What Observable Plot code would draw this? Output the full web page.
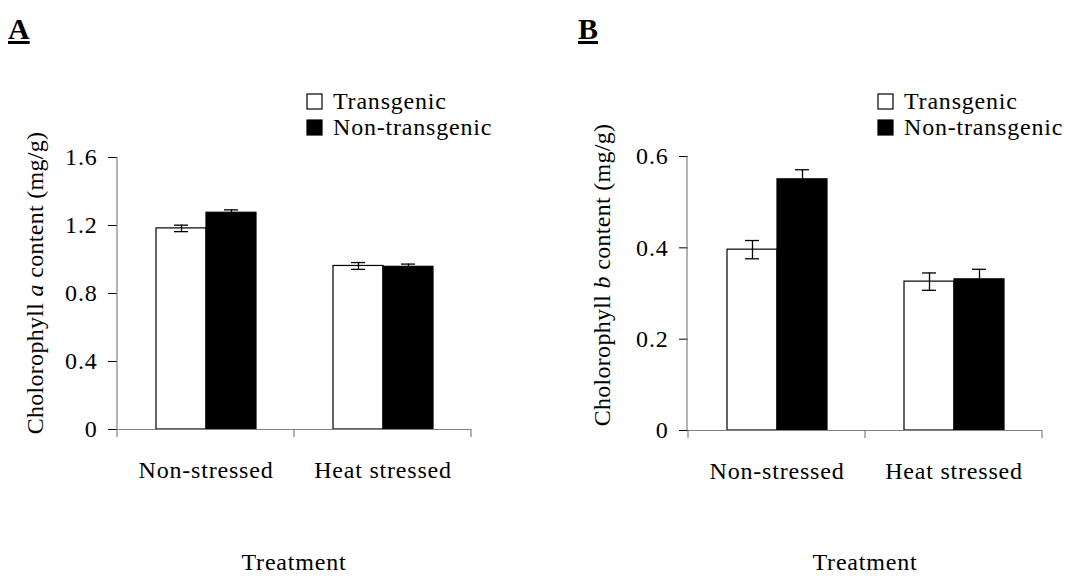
<!DOCTYPE html>
<html><head><meta charset="utf-8">
<script src="https://cdn.jsdelivr.net/npm/d3@7"></script>
<script src="https://cdn.jsdelivr.net/npm/@observablehq/plot@0.6"></script>
<style>
body{margin:0;background:#fff;}
#wrap{position:relative;width:1090px;height:579px;}
.panel{position:absolute;top:0;}
svg text{letter-spacing:0.8px;}
</style></head><body><div id="wrap"></div>
<script>
const FONT = '"Liberation Serif","Times New Roman",serif';
const treatments = ["Non-stressed", "Heat stressed"];
const genotypes = ["Transgenic", "Non-transgenic"];

// Panel A: chlorophyll a (mg/g)
const chlA_transgenic = [1.183, 0.962];
const chlA_transgenicErr = [0.019, 0.020];
const chlA_nonTransgenic = [1.275, 0.957];
const chlA_nonTransgenicErr = [0.017, 0.016];
const ticksA = [0, 0.4, 0.8, 1.2, 1.6];

// Panel B: chlorophyll b (mg/g)
const chlB_transgenic = [0.396, 0.326];
const chlB_transgenicErr = [0.020, 0.019];
const chlB_nonTransgenic = [0.550, 0.331];
const chlB_nonTransgenicErr = [0.021, 0.022];
const ticksB = [0, 0.2, 0.4, 0.6];

function rowsOf(tv, te, nv, ne) {
  const rows = [];
  treatments.forEach((t, i) => {
    rows.push({treatment: t, genotype: genotypes[0], value: tv[i], err: te[i]});
    rows.push({treatment: t, genotype: genotypes[1], value: nv[i], err: ne[i]});
  });
  return rows;
}

function toPx(s) { return s.apply ? s.apply : d3.scaleLinear(s.domain, s.range); }

function panel(cfg) {
  const {rows, ticks, letter, italic, left, width, marginLeft, marginRight, marginTop, marginBottom, titleX, titleY, legendX} = cfg;
  const height = 579;
  const fmt = d => d === 0 ? "0" : d.toFixed(1);
  const chart = Plot.plot({
    width, height, marginLeft, marginRight, marginTop, marginBottom,
    style: {fontFamily: FONT, fontSize: "24px", color: "#000", background: "transparent", overflow: "visible"},
    fx: {domain: treatments, padding: 0, label: null, axis: "bottom", tickSize: 0, tickPadding: 31},
    x: {domain: genotypes, paddingInner: 0, paddingOuter: 0.74, axis: null},
    y: {domain: [ticks[0], ticks[ticks.length - 1]], ticks, tickFormat: fmt, label: null, tickSize: 9, tickPadding: 11},
    color: {domain: genotypes, range: ["#ffffff", "#000000"]},
    marks: [
      Plot.barY(rows, {fx: "treatment", x: "genotype", y: "value", fill: "genotype", stroke: "#000", strokeWidth: 1.2}),
      Plot.ruleX(rows, {fx: "treatment", x: "genotype", y1: d => d.value - d.err, y2: d => d.value + d.err, stroke: "#000", strokeWidth: 1.3}),
      Plot.tickY(rows, {fx: "treatment", x: "genotype", y: d => d.value - d.err, insetLeft: 18, insetRight: 18, stroke: "#000", strokeWidth: 1.3}),
      Plot.tickY(rows, {fx: "treatment", x: "genotype", y: d => d.value + d.err, insetLeft: 18, insetRight: 18, stroke: "#000", strokeWidth: 1.3}),
      Plot.ruleY([0], {stroke: "#808080", strokeWidth: 1.2})
    ]
  });
  const svg = d3.select(chart);
  const yS = chart.scale("y");
  const yPx = toPx(yS);
  const y0 = yPx(ticks[0]);
  const yTop = yPx(ticks[ticks.length - 1]);
  // y axis line
  svg.append("line").attr("x1", marginLeft).attr("x2", marginLeft).attr("y1", yTop).attr("y2", y0)
    .attr("stroke", "#808080").attr("stroke-width", 1.2);
  // category boundary ticks
  let bounds;
  try {
    const fxS = chart.scale("fx");
    const fxPx = toPx(fxS);
    const bw = fxS.bandwidth;
    bounds = treatments.map(t => fxPx(t));
    bounds.push(fxPx(treatments[treatments.length - 1]) + bw);
  } catch (e) {
    const inner = width - marginLeft - marginRight;
    bounds = [0, 1, 2].map(i => marginLeft + i * inner / 2);
  }
  bounds.forEach(b => svg.append("line").attr("x1", b).attr("x2", b).attr("y1", y0).attr("y2", y0 + 8)
    .attr("stroke", "#808080").attr("stroke-width", 1.2));
  // y title
  const t = svg.append("text").attr("transform", `translate(${titleX},${titleY}) rotate(-90)`)
    .attr("text-anchor", "middle").attr("font-family", FONT).attr("font-size", 24).attr("fill", "#000")
    .style("letter-spacing", "0.3px");
  t.append("tspan").text("Cholorophyll ");
  t.append("tspan").attr("font-style", "italic").text(italic);
  t.append("tspan").text(" content (mg/g)");
  // x title
  svg.append("text").attr("x", (bounds[0] + bounds[bounds.length - 1]) / 2).attr("y", 570)
    .attr("text-anchor", "middle").attr("font-family", FONT).attr("font-size", 24).attr("fill", "#000").text("Treatment");
  // panel letter
  svg.append("text").attr("x", cfg.letterX).attr("y", 39).attr("text-anchor", "start").attr("font-family", FONT).attr("font-size", 30)
    .attr("font-weight", "bold").attr("text-decoration", "underline").attr("fill", "#000").style("letter-spacing", "0px").text(letter);
  // legend
  genotypes.forEach((g, i) => {
    const yy = 94 + i * 26;
    svg.append("rect").attr("x", legendX).attr("y", yy).attr("width", 15).attr("height", 15)
      .attr("fill", i === 0 ? "#fff" : "#000").attr("stroke", "#000").attr("stroke-width", 1.2);
    svg.append("text").attr("x", legendX + 26).attr("y", yy + 15).attr("text-anchor", "start").attr("font-family", FONT).attr("font-size", 24)
      .attr("fill", "#000").text(g);
  });
  const div = document.createElement("div");
  div.className = "panel";
  div.style.left = left + "px";
  div.appendChild(chart);
  document.getElementById("wrap").appendChild(div);
}

panel({
  rows: rowsOf(chlA_transgenic, chlA_transgenicErr, chlA_nonTransgenic, chlA_nonTransgenicErr),
  ticks: ticksA, letter: "A", italic: "a", left: 0, width: 545,
  marginLeft: 117, marginRight: 74, marginTop: 157, marginBottom: 150,
  titleX: 43, titleY: 283, legendX: 307, letterX: 8
});
panel({
  rows: rowsOf(chlB_transgenic, chlB_transgenicErr, chlB_nonTransgenic, chlB_nonTransgenicErr),
  ticks: ticksB, letter: "B", italic: "b", left: 545, width: 545,
  marginLeft: 142, marginRight: 48, marginTop: 156, marginBottom: 149,
  titleX: 65, titleY: 275, legendX: 333, letterX: 33
});
</script>
</body></html>
